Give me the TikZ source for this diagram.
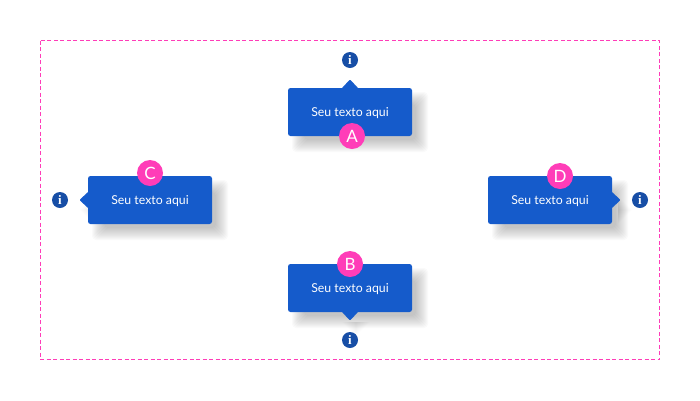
\documentclass[tikz,border=0pt]{standalone}
\usepackage{fontspec}
\setmainfont{Lato}
\newfontfamily\infofont{Liberation Serif}
\usetikzlibrary{positioning}
\definecolor{myblue}{HTML}{155BCB}
\definecolor{mydarkblue}{HTML}{174EA6}
\definecolor{mypink}{HTML}{FF3DB8}

\tikzset{
    boxnode/.style={fill=myblue, rounded corners=2.5, minimum width=124, minimum height=48,
        inner sep=0, text=white, text height=10, text depth=0.6, font=\fontsize{12.3}{14}\selectfont},
    badgenode/.style={circle, fill=mypink, minimum size=26, inner sep=0, text=white,
        font=\fontsize{17}{18}\selectfont},
    infonode/.style={circle, fill=mydarkblue, minimum size=16, inner sep=0, text=white,
        font=\infofont\bfseries\fontsize{13}{13}\selectfont},
}

\begin{document}
\begin{tikzpicture}[x=1pt, y=-1pt]

    \useasboundingbox (0,0) rectangle (700,400);

    % moldura tracejada
    \draw[mypink, line width=0.8, dash pattern=on 4 off 2.5] (40.5,40.5) rectangle (659.5,359.5);

    % caixas com sombra e ponta
    \foreach \nm/\x/\y/\rot/\hh in {A/350/112/0/24, B/350/288/180/24, C/150/200/90/62, D/550/200/-90/62}{
        \foreach \e in {-6,-5,...,6}{
            \fill[black, opacity=0.018, rounded corners=4]
                (\x+10-62-\e,\y+10-24-\e) rectangle (\x+10+62+\e,\y+10+24+\e);
            \fill[black, opacity=0.007, shift={(\x+6,\y+10)}, rotate=\rot]
                (-8-\e,-\hh) -- (0,-\hh-8-\e) -- (8+\e,-\hh) -- cycle;
        }
        \fill[myblue, rounded corners=1, shift={(\x,\y)}, rotate=\rot]
            (-8.5,-\hh+1) -- (-8,-\hh) -- (0,-\hh-8.5) -- (8,-\hh) -- (8.5,-\hh+1) -- cycle;
        \node[boxnode] (box\nm) at (\x,\y) {Seu texto aqui};
    }

    % letras
    \node[badgenode] (badgeA) at (352,136) {A};
    \node[badgenode] (badgeB) at (350,264) {B};
    \node[badgenode] (badgeC) at (150,173) {C};
    \node[badgenode] (badgeD) at (560,176) {D};

    % icones de informacao
    \node[infonode] (infoA) at (350,60) {i};
    \node[infonode] (infoB) at (350,340) {i};
    \node[infonode] (infoC) at (60,200) {i};
    \node[infonode] (infoD) at (640,200) {i};

\end{tikzpicture}
\end{document}
